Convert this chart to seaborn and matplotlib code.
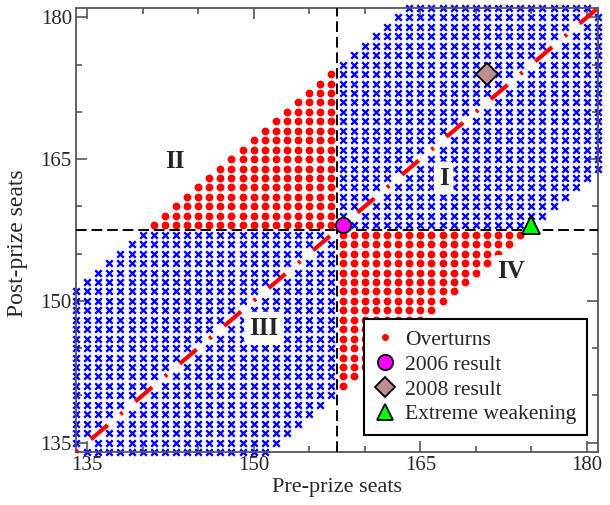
import numpy as np
import pandas as pd
import matplotlib
matplotlib.use("Agg")
import matplotlib.pyplot as plt
from matplotlib.lines import Line2D
import seaborn as sns

# ---- data ----
seat_min, seat_max = 134, 181          # simulated seat range (both axes)
majority = 157.5                       # threshold (dashed lines)
max_swing = 17                         # largest |post - pre| simulated
result_2006 = (158, 158)
result_2008 = (171, 174)
extreme_weakening = (175, 158)
region_labels = ["I", "II", "III", "IV"]
region_x = [167.1, 142.9, 150.9, 173.2]
region_y = [163.0, 164.7, 147.1, 153.1]
ticks = [135, 150, 165, 180]
legend_labels = ["Overturns", "2006 result", "2008 result", "Extreme weakening"]

# ---- grid classification ----
rows = []
for pre in range(seat_min, seat_max + 1):
    for post in range(seat_min, seat_max + 1):
        if abs(post - pre) > max_swing or post == pre:
            continue
        over = (pre < majority) != (post < majority)
        rows.append((pre, post, "Overturns" if over else "Stable"))
grid = pd.DataFrame(rows, columns=["pre", "post", "kind"])
diag = pd.DataFrame({"pre": [seat_min, seat_max], "post": [seat_min, seat_max]})

sns.set_style("ticks")
plt.rcParams["font.family"] = ["Liberation Serif", "DejaVu Serif"]

fig = plt.figure(figsize=(6.1, 5.05), dpi=100)
ax = fig.add_axes([76 / 610, 1 - 452 / 505, 522 / 610, 444 / 505])

sns.scatterplot(data=grid[grid.kind == "Stable"], x="pre", y="post", marker="x",
                color="#0000ff", s=22, linewidth=1.7, ax=ax, clip_on=False,
                legend=False, zorder=2)
sns.scatterplot(data=grid[grid.kind == "Overturns"], x="pre", y="post", marker="o",
                color="#ff0000", s=32, linewidth=0, ax=ax, clip_on=False,
                legend=False, zorder=2)
ax.plot(diag.pre, diag.post, color="#ff0000", lw=3,
        linestyle=(0, (0.7, 4, 5.3, 4)), zorder=3, clip_on=False)

ax.axvline(majority, color="black", lw=1.4, linestyle=(0, (5.5, 2.5)), zorder=4)
ax.axhline(majority, color="black", lw=1.4, linestyle=(0, (5.5, 2.5)), zorder=4)

ax.plot(*result_2006, marker="o", ms=11, mfc="#ff00ff", mec="black", mew=1.3,
        ls="none", zorder=5)
ax.plot(*result_2008, marker="D", ms=11, mfc="#bc8f8f", mec="black", mew=1.3,
        ls="none", zorder=5)
ax.plot(*extreme_weakening, marker="^", ms=13, mfc="#00ff00", mec="black", mew=1.3,
        ls="none", zorder=5)

for lab, x, y in zip(region_labels, region_x, region_y):
    ax.text(x, y, lab, fontsize=18, fontweight="bold", ha="center", va="center",
            zorder=6, bbox=dict(boxstyle="round,pad=0.2", fc="white", ec="none"))

ax.set_xlim(seat_min, seat_max)
ax.set_ylim(seat_min, seat_max)
ax.set_xticks(ticks)
ax.set_yticks(ticks)
ax.set_xticks(range(140, 181, 5), minor=True)
ax.set_yticks(range(140, 181, 5), minor=True)
ax.tick_params(which="both", direction="in", top=True, right=True,
               color="#555555", labelsize=15, pad=3)
ax.tick_params(which="major", length=8, width=1.2)
ax.tick_params(which="minor", length=4, width=1.2)
for sp in ax.spines.values():
    sp.set_color("#555555")
    sp.set_linewidth(1.3)
ax.set_xlabel("Pre-prize seats", fontsize=16, labelpad=2)
ax.set_ylabel("Post-prize seats", fontsize=17, labelpad=4)
ax.yaxis.set_label_coords(-0.092, 0.47)

handles = [
    Line2D([], [], marker="o", ls="none", ms=5, mfc="#ff0000", mec="none"),
    Line2D([], [], marker="o", ls="none", ms=11, mfc="#ff00ff", mec="black", mew=1.3),
    Line2D([], [], marker="D", ls="none", ms=10, mfc="#bc8f8f", mec="black", mew=1.3),
    Line2D([], [], marker="^", ls="none", ms=12, mfc="#00ff00", mec="black", mew=1.3),
]
leg = ax.legend(handles, legend_labels, loc="lower right", bbox_to_anchor=(0.979, 0.038),
                borderaxespad=0, fontsize=15.5, frameon=True, fancybox=False,
                edgecolor="black", framealpha=1, labelspacing=0.22,
                handletextpad=0.5, borderpad=0.5, handlelength=0.9)
leg.get_frame().set_linewidth(1.5)
leg.set_zorder(10)

fig.savefig("out.png", dpi=100)
